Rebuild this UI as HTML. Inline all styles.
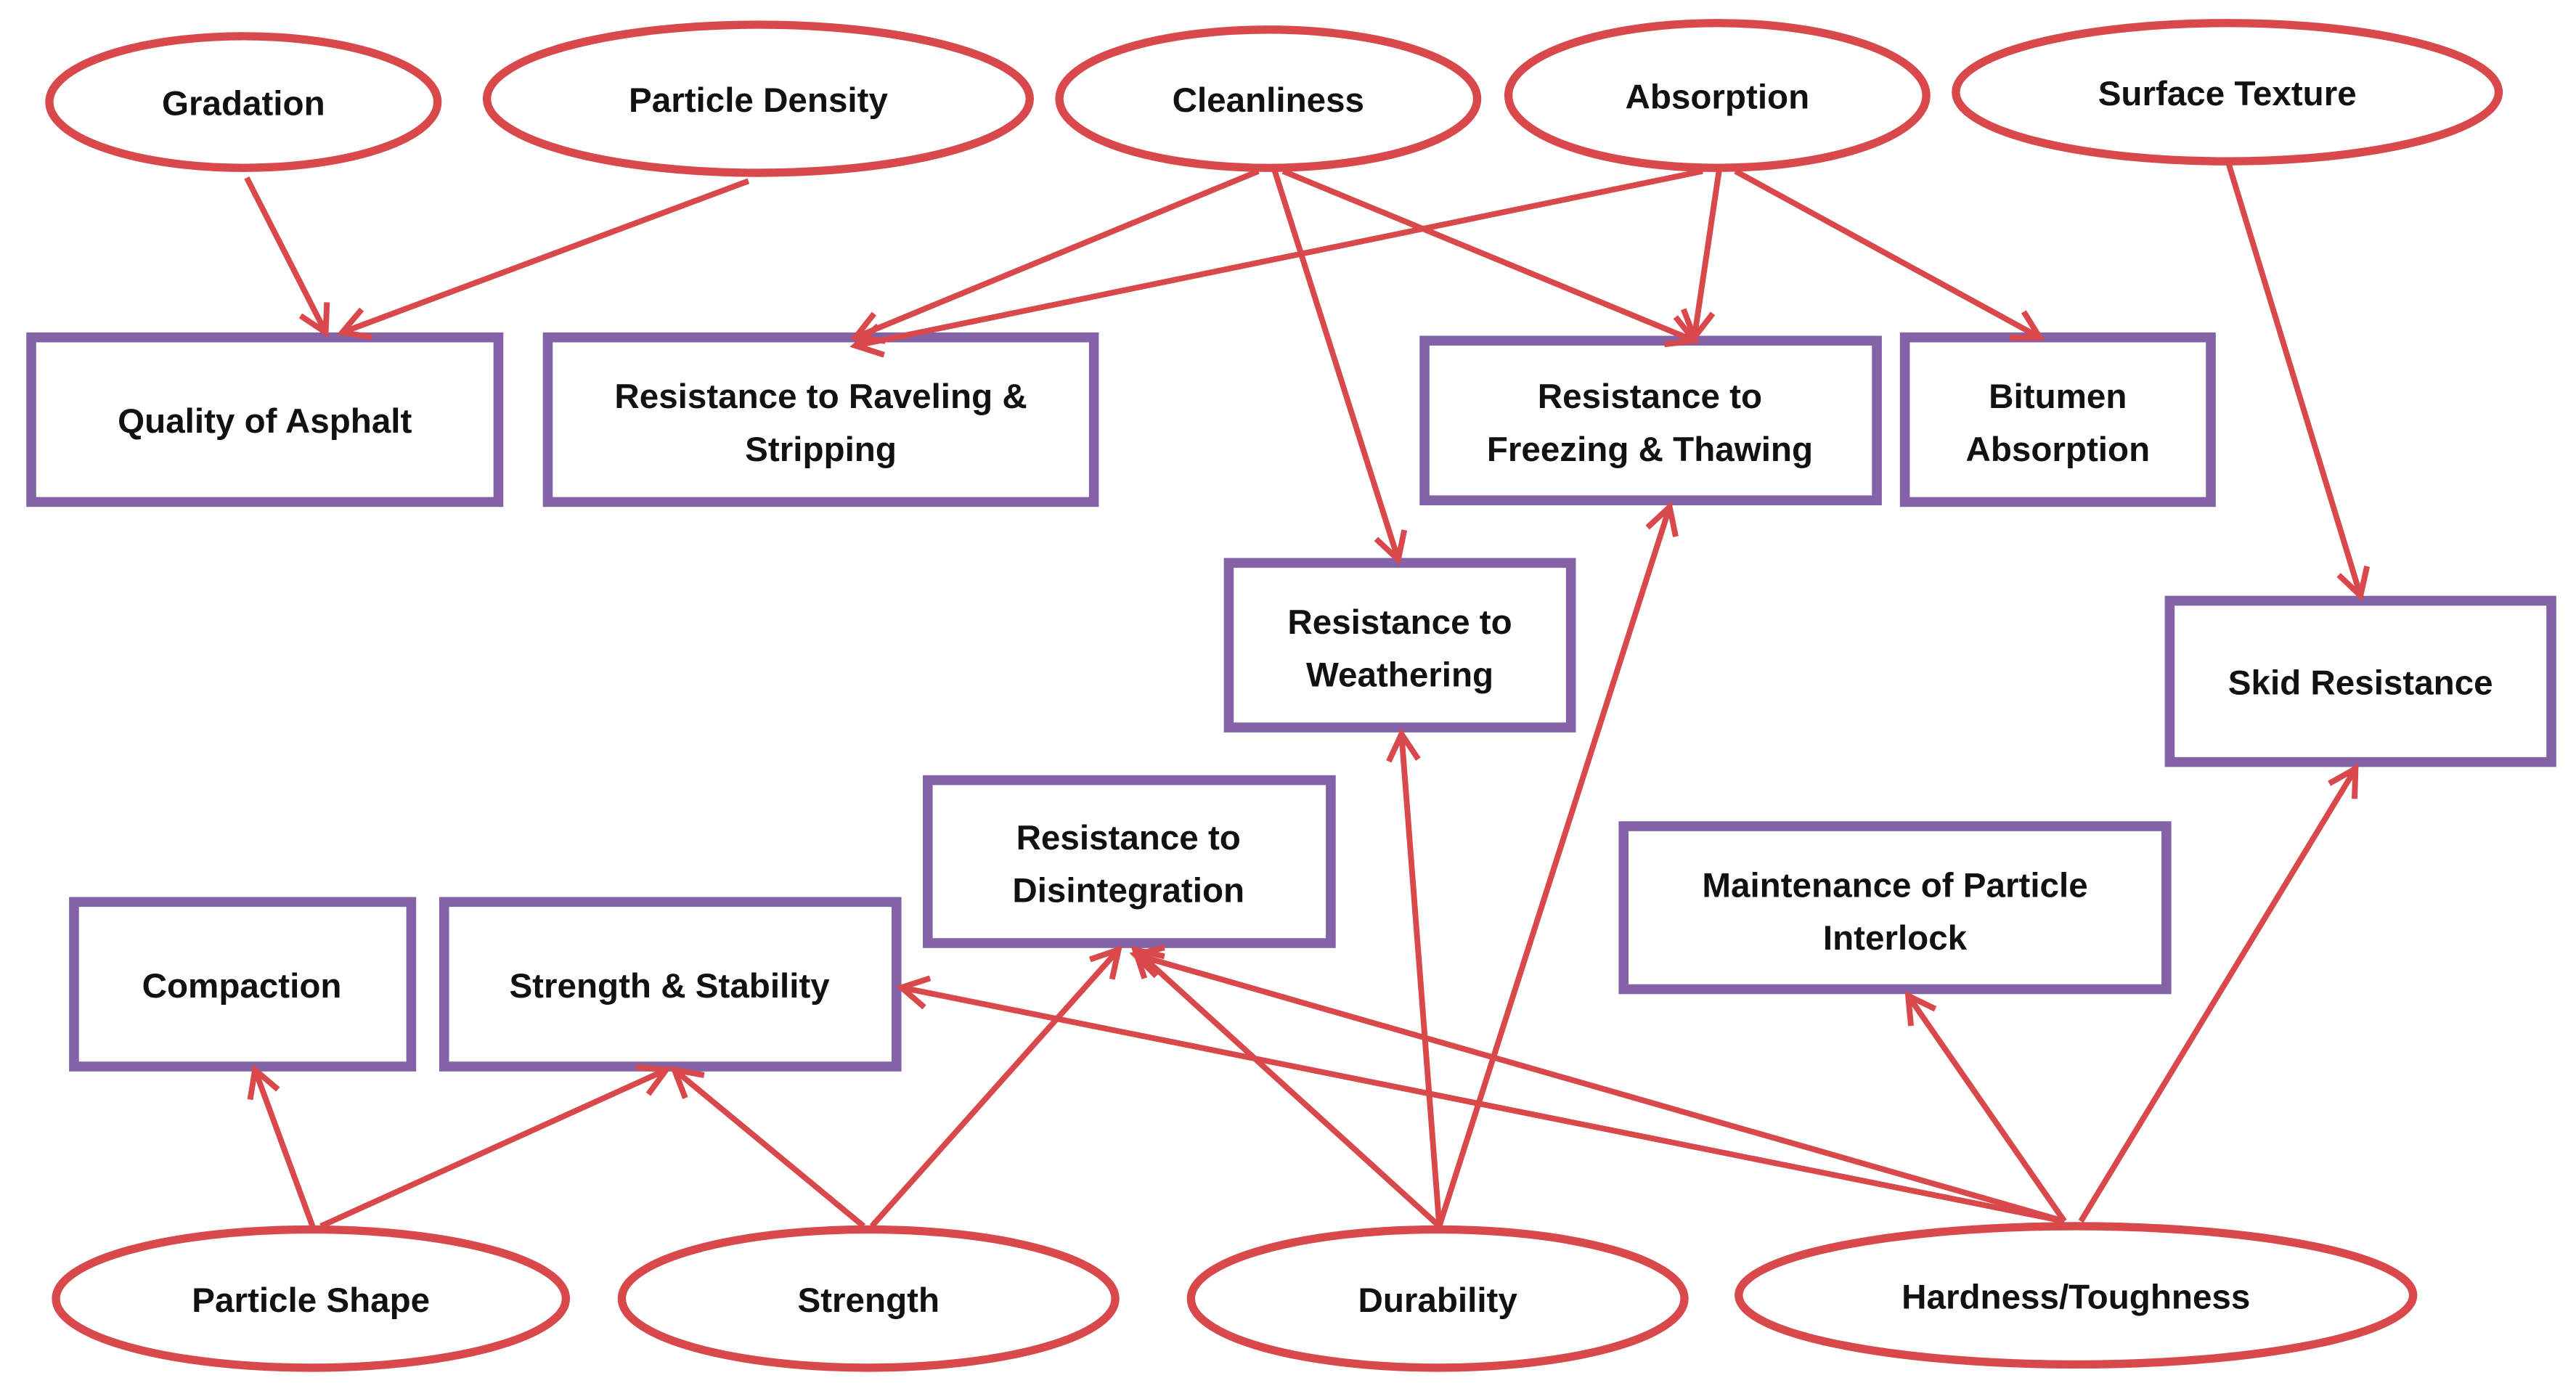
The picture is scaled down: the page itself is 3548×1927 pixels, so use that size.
<!DOCTYPE html>
<html><head><meta charset="utf-8"><style>
html,body{margin:0;padding:0;background:#fff;}
svg{display:block;}
text{font-family:"Liberation Sans",sans-serif;font-weight:bold;font-size:21px;fill:#111;text-anchor:middle;}
</style></head><body>
<svg width="3548" height="1927" viewBox="0 0 1566 850" preserveAspectRatio="none" xmlns="http://www.w3.org/2000/svg">
<defs>
<marker id="a" markerUnits="userSpaceOnUse" markerWidth="30" markerHeight="30" refX="20" refY="10" orient="auto" viewBox="0 0 30 20">
<path d="M4,1 L20,10 L4,19" fill="none" stroke="#d9484a" stroke-width="3.5"/>
</marker>
</defs>
<g fill="#fff" stroke="#d9484a" stroke-width="5">
<ellipse cx="148" cy="62" rx="118" ry="40"/>
<ellipse cx="461" cy="60" rx="165" ry="45"/>
<ellipse cx="771" cy="60" rx="127" ry="42"/>
<ellipse cx="1044" cy="58" rx="127" ry="44"/>
<ellipse cx="1354" cy="56" rx="165" ry="42"/>
<ellipse cx="189" cy="789" rx="155" ry="42"/>
<ellipse cx="528" cy="789" rx="150" ry="42"/>
<ellipse cx="874" cy="789" rx="150" ry="42"/>
<ellipse cx="1262" cy="787" rx="205" ry="42"/>
</g>
<g fill="#fff" stroke="#8362a8" stroke-width="6">
<rect x="19" y="205" width="284" height="100"/>
<rect x="333" y="205" width="332" height="100"/>
<rect x="866" y="207" width="275" height="97"/>
<rect x="1158" y="205" width="186" height="100"/>
<rect x="747" y="342" width="208" height="100"/>
<rect x="1319" y="365" width="232" height="98"/>
<rect x="564" y="474" width="245" height="99"/>
<rect x="987" y="502" width="330" height="99"/>
<rect x="45" y="548" width="205" height="100"/>
<rect x="270" y="548" width="275" height="100"/>
</g>
<g stroke="#d9484a" stroke-width="3.5" fill="none" marker-end="url(#a)">
<line x1="150" y1="108" x2="198" y2="202"/>
<line x1="455" y1="110" x2="208" y2="202"/>
<line x1="765" y1="104" x2="520" y2="205"/>
<line x1="1035" y1="104" x2="520" y2="210"/>
<line x1="775" y1="104" x2="850" y2="340"/>
<line x1="780" y1="104" x2="1030" y2="207"/>
<line x1="1045" y1="104" x2="1030" y2="205"/>
<line x1="1055" y1="104" x2="1240" y2="205"/>
<line x1="1355" y1="100" x2="1435" y2="362"/>
<line x1="190" y1="745" x2="155" y2="650"/>
<line x1="195" y1="745" x2="405" y2="650"/>
<line x1="525" y1="745" x2="410" y2="650"/>
<line x1="530" y1="745" x2="680" y2="577"/>
<line x1="875" y1="745" x2="690" y2="577"/>
<line x1="875" y1="745" x2="852" y2="446"/>
<line x1="875" y1="745" x2="1015" y2="308"/>
<line x1="1255" y1="742" x2="548" y2="600"/>
<line x1="1255" y1="742" x2="690" y2="580"/>
<line x1="1255" y1="742" x2="1160" y2="605"/>
<line x1="1265" y1="742" x2="1432" y2="467"/>
</g>
<text x="148" y="70">Gradation</text>
<text x="461" y="68">Particle Density</text>
<text x="771" y="68">Cleanliness</text>
<text x="1044" y="66">Absorption</text>
<text x="1354" y="64">Surface Texture</text>
<text x="189" y="797">Particle Shape</text>
<text x="528" y="797">Strength</text>
<text x="874" y="797">Durability</text>
<text x="1262" y="795">Hardness/Toughness</text>
<text x="161" y="263">Quality of Asphalt</text>
<text x="499" y="248">Resistance to Raveling &amp;</text>
<text x="499" y="280">Stripping</text>
<text x="1003" y="248">Resistance to</text>
<text x="1003" y="280">Freezing &amp; Thawing</text>
<text x="1251" y="248">Bitumen</text>
<text x="1251" y="280">Absorption</text>
<text x="851" y="385">Resistance to</text>
<text x="851" y="417">Weathering</text>
<text x="1435" y="422">Skid Resistance</text>
<text x="686" y="516">Resistance to</text>
<text x="686" y="548">Disintegration</text>
<text x="1152" y="545">Maintenance of Particle</text>
<text x="1152" y="577">Interlock</text>
<text x="147" y="606">Compaction</text>
<text x="407" y="606">Strength &amp; Stability</text>
</svg>
</body></html>
